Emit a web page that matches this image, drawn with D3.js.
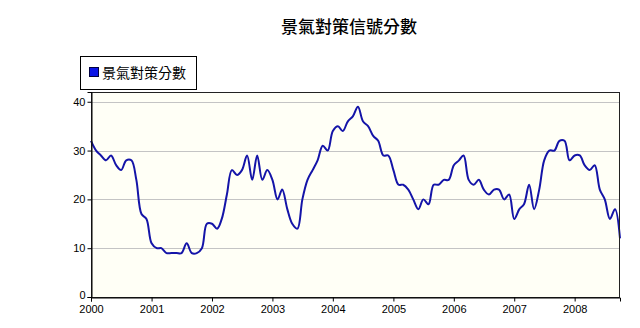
<!DOCTYPE html>
<html>
<head>
<meta charset="utf-8">
<script src="https://cdn.jsdelivr.net/npm/d3@7"></script>
<style>
  html, body { margin: 0; padding: 0; background: #ffffff; }
  svg { display: block; }
  .tick text { font-family: "Liberation Sans", Arial, sans-serif; font-size: 11px; fill: #000; }
</style>
</head>
<body>
<svg id="chart" width="640" height="328"></svg>
<script>
// Monthly composite score of the business monitoring indicator, Jan 2000 – Sep 2008
const startYear = 2000;
const startMonth = 0;
const scores = [
  32, 30, 29, 28, 29, 27, 26, 28, 28, 24, 17, 16,   // 2000
  11, 10, 10, 9, 9, 9, 9, 11, 9, 9, 10, 15,          // 2001
  15, 14, 16, 21, 26, 25, 26, 29, 24, 29, 24, 26,    // 2002
  24, 20, 22, 18, 15, 14, 20, 24, 26, 28, 31, 30,    // 2003
  34, 35, 34, 36, 37, 39, 36, 35, 33, 32, 29, 29,    // 2004
  26, 23, 23, 22, 20, 18, 20, 19, 23, 23, 24, 24,    // 2005
  27, 28, 29, 24, 23, 24, 22, 21, 22, 22, 20, 21,    // 2006
  16, 18, 19, 23, 18, 22, 28, 30, 30, 32, 32, 28,    // 2007
  29, 29, 27, 26, 27, 22, 20, 16, 18, 12             // 2008
];
const yTicks = [0, 10, 20, 30, 40];
const yearTicks = [2000, 2001, 2002, 2003, 2004, 2005, 2006, 2007, 2008];
const chartTitle = "景氣對策信號分數";
const seriesName = "景氣對策分數";

const data = scores.map((v, i) => ({ date: new Date(startYear, startMonth + i, 1), value: v }));

const svg = d3.select("#chart");
const plot = { left: 91, right: 620, top: 92, bottom: 297 };

const x = d3.scaleTime()
  .domain([data[0].date, data[data.length - 1].date])
  .range([plot.left, plot.right]);
const y = d3.scaleLinear()
  .domain([0, 42])
  .range([plot.bottom, plot.top]);

// plot background
svg.append("rect")
  .attr("x", plot.left).attr("y", plot.top)
  .attr("width", plot.right - plot.left).attr("height", plot.bottom - plot.top)
  .attr("fill", "#fffff6");

// horizontal grid lines
svg.append("g")
  .selectAll("line")
  .data(yTicks.filter(d => d > 0))
  .join("line")
  .attr("x1", plot.left).attr("x2", plot.right)
  .attr("y1", d => Math.round(y(d)) + 0.5).attr("y2", d => Math.round(y(d)) + 0.5)
  .attr("stroke", "#c4c4c4").attr("stroke-width", 1.2);

// score line
const line = d3.line()
  .x(d => x(d.date))
  .y(d => y(d.value))
  .curve(d3.curveCatmullRom.alpha(0.5));

svg.append("path")
  .datum(data)
  .attr("d", line)
  .attr("fill", "none")
  .attr("stroke", "#1414a8")
  .attr("stroke-width", 2)
  .attr("stroke-linejoin", "round");

// frame
svg.append("rect")
  .attr("x", plot.left + 0.5).attr("y", plot.top + 0.5)
  .attr("width", plot.right - plot.left - 1).attr("height", plot.bottom - plot.top)
  .attr("fill", "none").attr("stroke", "#222").attr("stroke-width", 1);

// axes
const yAxis = d3.axisLeft(y).tickValues(yTicks).tickSize(4).tickPadding(2);
svg.append("g")
  .attr("transform", `translate(${plot.left + 0.5},0)`)
  .call(yAxis)
  .call(g => g.select(".domain").attr("stroke", "#000"))
  .call(g => g.selectAll(".tick text").filter(d => d === 0).attr("dy", "0.15em"));

const xAxis = d3.axisBottom(x)
  .tickValues(yearTicks.map(yr => new Date(yr, 0, 1)))
  .tickFormat(d3.timeFormat("%Y"))
  .tickSize(4).tickPadding(4);
svg.append("g")
  .attr("transform", `translate(0,${plot.bottom + 0.5})`)
  .call(xAxis)
  .call(g => g.select(".domain").attr("stroke", "#000"));

// title
svg.append("text")
  .attr("x", 349).attr("y", 33)
  .attr("text-anchor", "middle")
  .attr("font-family", "'Noto Sans CJK TC', sans-serif")
  .attr("font-size", 17)
  .attr("font-weight", 500)
  .attr("fill", "#000")
  .text(chartTitle);

// legend
const legend = svg.append("g").attr("transform", "translate(80,56)");
legend.append("rect")
  .attr("x", 0.5).attr("y", 0.5).attr("width", 116).attr("height", 33)
  .attr("fill", "#fff").attr("stroke", "#000");
legend.append("rect")
  .attr("x", 9.5).attr("y", 11.5).attr("width", 9).attr("height", 9)
  .attr("fill", "#0a14e6").attr("stroke", "#000040");
legend.append("text")
  .attr("x", 22).attr("y", 21.5)
  .attr("font-family", "'Noto Sans CJK TC', sans-serif")
  .attr("font-size", 14)
  .attr("fill", "#000")
  .text(seriesName);
</script>
</body>
</html>
